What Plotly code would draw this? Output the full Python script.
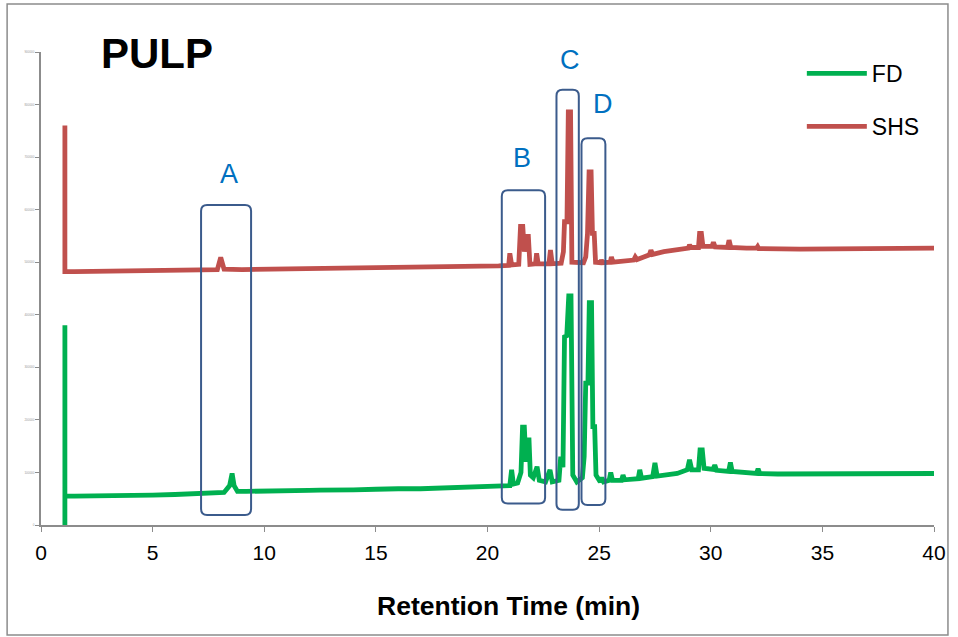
import plotly.graph_objects as go

# ---------------- data ----------------
fd_time = [1.07, 1.07, 1.07, 1.5, 2.5, 3, 4, 4.5, 5, 6, 6.5, 7, 7.5, 8.2, 8.45, 8.56, 8.65, 8.8, 9.2,
           9.5, 10, 10.5, 11, 12, 12.5, 13.5, 14, 15, 15.5, 16, 17, 17.5, 18, 19, 19.5, 19.9, 20.5, 21.0,
           21.08, 21.16, 21.35, 21.5, 21.57, 21.65, 21.72, 21.78, 21.86, 21.92, 22.05,
           22.22, 22.32, 22.6, 22.8, 22.9, 23.2, 23.28, 23.38, 23.45, 23.55, 23.64, 23.74, 23.82, 24.0,
           24.25, 24.33, 24.4, 24.5, 24.56, 24.66, 24.72, 24.8, 24.86, 25.05, 25.12, 25.2, 25.45, 25.52,
           25.6, 26.0, 26.07, 26.14, 26.75, 26.82, 26.9, 27.4, 27.5, 27.6, 28.0, 28.5, 28.95, 29.05, 29.15,
           29.45, 29.52, 29.62, 29.7, 30.1, 30.18, 30.26, 30.8, 30.88, 30.96, 31.6, 32.05, 32.12, 32.2, 33,
           34, 35, 36, 37, 38, 39, 40]
fd_signal = [0.0, 3.8, 0.55, 0.55, 0.55, 0.56, 0.565, 0.56, 0.57, 0.58, 0.59, 0.59, 0.60, 0.62, 0.75,
             0.98, 0.75, 0.64, 0.64, 0.64, 0.65, 0.65, 0.645, 0.66, 0.665, 0.66, 0.67, 0.68, 0.675, 0.69,
             0.69, 0.70, 0.70, 0.715, 0.72, 0.74, 0.74, 0.75, 1.05, 0.78, 0.80, 1.0, 1.86, 1.86, 1.2, 1.62,
             1.62, 0.95, 0.9, 1.11, 0.85, 0.82, 1.05, 0.82, 0.85, 1.3, 1.1, 3.58, 3.6, 4.36, 4.36, 0.95,
             0.82, 0.9, 1.3, 2.7, 2.7, 4.23, 4.23, 1.87, 1.87, 0.95, 0.82, 0.9, 0.82, 0.85, 1.0, 0.85,
             0.85, 0.95, 0.86, 0.88, 1.05, 0.89, 0.92, 1.18, 0.93, 0.95, 0.98, 1.05, 1.24, 1.05, 1.05,
             1.43, 1.43, 1.08, 1.06, 1.14, 1.04, 1.02, 1.19, 1.02, 0.99, 0.98, 1.07, 0.98, 0.97, 0.97,
             0.97, 0.98, 0.98, 0.97, 0.98, 0.98]

shs_time = [1.07, 1.07, 1.5, 3, 4, 5, 6, 7, 7.9, 8.05, 8.2, 9, 10, 11, 12, 13, 14.5, 16, 17, 18, 19,
            20, 20.5, 20.95, 21.0, 21.08,
            21.4, 21.48, 21.58, 21.65, 21.75, 21.83, 21.9, 22.15, 22.2, 22.27, 22.75, 22.82, 22.9, 23.3,
            23.4, 23.45, 23.56, 23.62, 23.72, 23.78, 24.3, 24.4, 24.48, 24.55, 24.64, 24.7, 24.78, 24.84,
            25.05, 25.1, 25.16, 25.5, 25.55, 25.62, 26.0, 26.55, 26.62, 26.7, 27.0, 27.25, 27.32, 27.4,
            27.9, 28.5, 29.0, 29.05, 29.12, 29.45, 29.5, 29.58, 29.65, 30.05, 30.12, 30.2, 30.75, 30.82,
            30.9, 31.6, 32.05, 32.1, 32.15, 34, 36, 38, 40]
shs_signal = [7.6, 4.82, 4.82, 4.83, 4.835, 4.84, 4.845, 4.85, 4.86, 5.09, 4.87, 4.86, 4.865, 4.87,
              4.875, 4.88, 4.885, 4.89, 4.895, 4.9, 4.905, 4.92,
              4.93, 4.94, 5.17, 4.95, 4.96, 5.68, 5.68, 5.2, 5.49, 5.49, 4.96, 4.97, 5.17, 4.97, 4.97,
              5.23, 4.97, 4.98, 5.2, 5.77, 5.77, 7.86, 7.86, 5.0, 4.99, 5.1, 5.55, 6.72, 6.72, 5.55, 5.55,
              5.0, 4.99, 5.04, 4.99, 5.0, 5.1, 5.0, 5.02, 5.04, 5.1, 5.05, 5.1, 5.14, 5.23, 5.15, 5.2,
              5.24, 5.27, 5.33, 5.28, 5.28, 5.55, 5.55, 5.3, 5.3, 5.38, 5.29, 5.28, 5.42, 5.28, 5.27, 5.27,
              5.3, 5.26, 5.25, 5.26, 5.26, 5.27]

x_ticks = [0, 5, 10, 15, 20, 25, 30, 35, 40]
y_tickvals = [0, 1, 2, 3, 4, 5, 6, 7, 8, 9]
y_ticktext = ["0", "100000", "200000", "300000", "400000", "500000", "600000", "700000", "800000", "900000"]

box_labels = ["A", "B", "C", "D"]
box_x0 = [7.17, 20.64, 23.09, 24.21]
box_x1 = [9.41, 22.58, 24.09, 25.28]
box_y0 = [0.19, 0.41, 0.29, 0.38]
box_y1 = [6.09, 6.37, 8.28, 7.36]
label_x = [8.44, 21.56, 23.70, 25.18]
label_y = [6.68, 6.98, 8.85, 8.01]

# ---------------- figure ----------------
FONT = "Arial, Liberation Sans, sans-serif"
fig = go.Figure()
fig.add_trace(go.Scatter(x=fd_time, y=fd_signal, mode="lines", name="FD",
                         line=dict(color="#00B050", width=4.8), legendgroup="a"))
fig.add_trace(go.Scatter(x=shs_time, y=shs_signal, mode="lines", name="SHS",
                         line=dict(color="#C0504D", width=4.8), legendgroup="b"))

rx, ry = 0.27, 0.115
for x0, x1, y0, y1 in zip(box_x0, box_x1, box_y0, box_y1):
    path = (f"M {x0+rx},{y0} L {x1-rx},{y0} Q {x1},{y0} {x1},{y0+ry} "
            f"L {x1},{y1-ry} Q {x1},{y1} {x1-rx},{y1} L {x0+rx},{y1} "
            f"Q {x0},{y1} {x0},{y1-ry} L {x0},{y0+ry} Q {x0},{y0} {x0+rx},{y0} Z")
    fig.add_shape(type="path", path=path, xref="x", yref="y",
                  line=dict(color="#3B5B8C", width=2), layer="above")

for lab, lx, ly in zip(box_labels, label_x, label_y):
    fig.add_annotation(x=lx, y=ly, text=lab, showarrow=False, xref="x", yref="y",
                       font=dict(family=FONT, size=27, color="#0070C0"))

fig.add_annotation(x=2.62, y=8.98, xref="x", yref="y", text="<b>PULP</b>", showarrow=False,
                   xanchor="left", yanchor="middle", font=dict(family=FONT, size=42, color="#000000"))

# x-axis title (offset to the right as in the reference)
fig.add_annotation(x=(510 - 41) / 896, y=(525 - 606) / 473, xref="paper", yref="paper",
                   text="<b>Retention Time (min)</b>", showarrow=False, xanchor="center",
                   yanchor="middle", font=dict(family=FONT, size=26.5, color="#000000"))

# outer border
fig.add_shape(type="rect", xref="paper", yref="paper",
              x0=(7 - 41) / 896, x1=(951 - 41) / 896, y0=(525 - 635) / 473, y1=(525 - 4) / 473,
              line=dict(color="#8C8C8C", width=1.5), layer="below")

fig.update_layout(
    width=958, height=637,
    margin=dict(l=41, r=21, t=52, b=112),
    paper_bgcolor="white", plot_bgcolor="white",
    font=dict(family=FONT, color="#000000"),
    showlegend=True,
    legend=dict(x=0.852, y=1.0, xanchor="left", yanchor="top", bgcolor="rgba(0,0,0,0)",
                font=dict(family=FONT, size=23), tracegroupgap=20, itemwidth=60,
                traceorder="grouped"),
    xaxis=dict(range=[0, 40], tickvals=x_ticks, ticks="outside", ticklen=5, tickcolor="#8C8C8C",
               showline=True, linecolor="#8C8C8C", linewidth=2, showgrid=False, zeroline=False,
               ticklabelstandoff=3,
               tickfont=dict(family=FONT, size=21, color="#000000")),
    yaxis=dict(range=[0, 9], tickvals=y_tickvals, ticktext=y_ticktext, ticks="outside", ticklen=4,
               tickcolor="#8C8C8C", showline=True, linecolor="#8C8C8C", linewidth=2, showgrid=False,
               zeroline=False, tickfont=dict(family=FONT, size=3, color="#999999")),
)

fig.write_html("out.html")
